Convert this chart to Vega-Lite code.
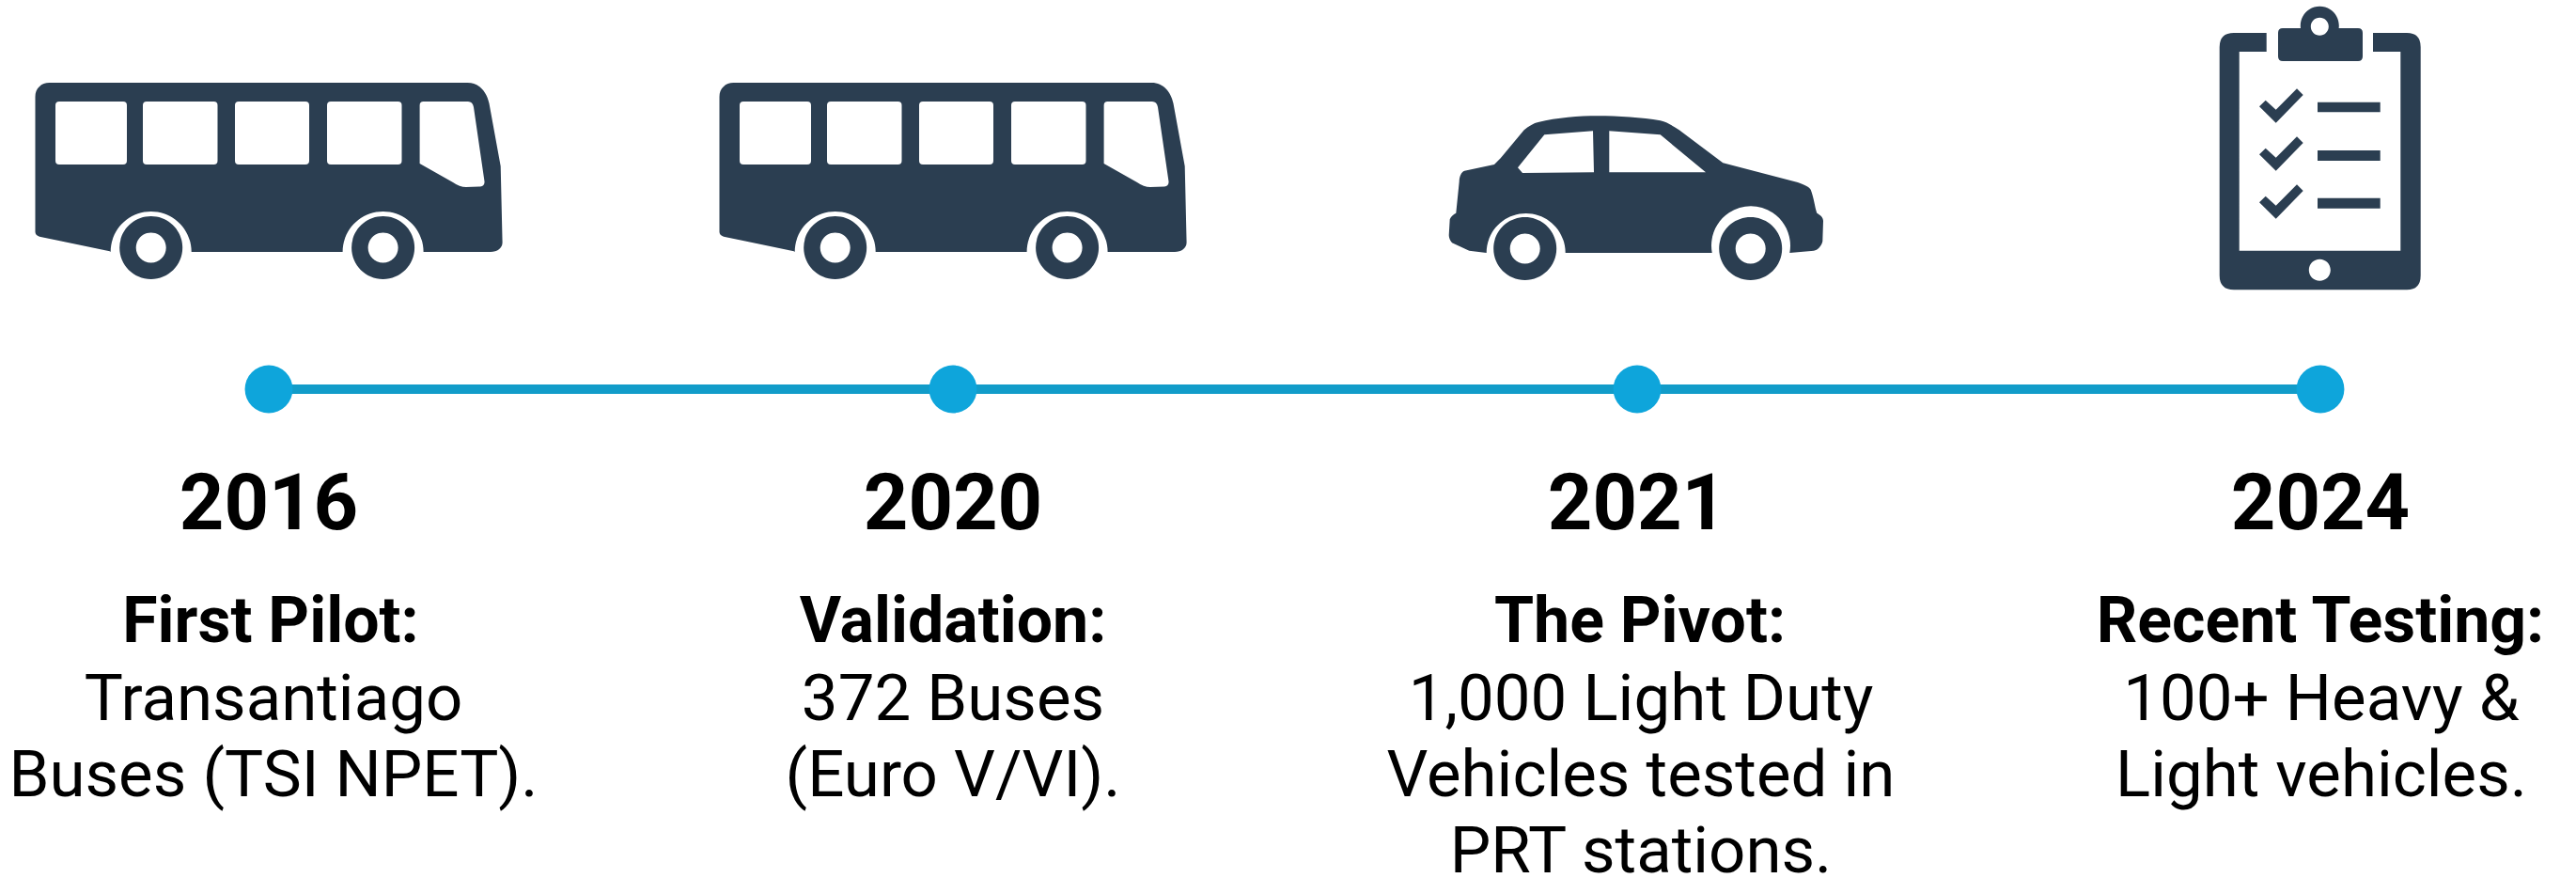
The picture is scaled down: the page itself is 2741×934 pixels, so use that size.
{"$schema":"https://vega.github.io/schema/vega-lite/v6.json","width":2741,"height":934,"padding":0,"autosize":{"type":"fit","contains":"padding"},"background":"#ffffff","view":{"stroke":null},"config":{"text":{"font":"Roboto","color":"#000000","align":"center","baseline":"alphabetic"}},"data":{"values":[
{"year":2016,"row":0,"kind":"icon","icon":"bus"},{"year":2020,"row":0,"kind":"icon","icon":"bus"},{"year":2021,"row":0,"kind":"icon","icon":"car"},{"year":2024,"row":0,"kind":"icon","icon":"clipboard"},
{"year":2016,"row":1,"kind":"node"},{"year":2020,"row":1,"kind":"node"},{"year":2021,"row":1,"kind":"node"},{"year":2024,"row":1,"kind":"node"},
{"year":2016,"row":2,"kind":"year","label":"2016"},{"year":2020,"row":2,"kind":"year","label":"2020"},{"year":2021,"row":2,"kind":"year","label":"2021"},{"year":2024,"row":2,"kind":"year","label":"2024"},
{"year":2016,"row":3,"kind":"head","label":"First Pilot:"},{"year":2016,"row":4,"kind":"body","label":"Transantiago"},{"year":2016,"row":5,"kind":"body","label":"Buses (TSI NPET)."},
{"year":2020,"row":3,"kind":"head","label":"Validation:"},{"year":2020,"row":4,"kind":"body","label":"372 Buses"},{"year":2020,"row":5,"kind":"body","label":"(Euro V/VI)."},
{"year":2021,"row":3,"kind":"head","label":"The Pivot:"},{"year":2021,"row":4,"kind":"body","label":"1,000 Light Duty"},{"year":2021,"row":5,"kind":"body","label":"Vehicles tested in"},{"year":2021,"row":6,"kind":"body","label":"PRT stations."},
{"year":2024,"row":3,"kind":"head","label":"Recent Testing:"},{"year":2024,"row":4,"kind":"body","label":"100+ Heavy &"},{"year":2024,"row":5,"kind":"body","label":"Light vehicles."}
]},
"encoding":{"x":{"field":"year","type":"quantitative","axis":null,"scale":{"domain":[2016,2020,2021,2024],"range":[286,1014,1742,2469],"nice":false,"zero":false}},"y":{"field":"row","type":"quantitative","axis":null,"scale":{"domain":[0,1,2,3,4,5,6],"range":[190,414,563,683,766,847,928],"nice":false,"zero":false}}},
"resolve":{"scale":{"x":"independent"}},
"layer":[
{"transform":[{"filter":"datum.kind==='node'"}],"mark":{"type":"line","color":"#129cc9","strokeWidth":10}},
{"transform":[{"filter":"datum.kind==='node'"}],"mark":{"type":"circle","color":"#0ea5db","opacity":1,"size":2590}},
{"transform":[{"filter":"datum.kind==='icon'"}],"mark":{"type":"point","filled":true,"opacity":1,"color":"#2b3e51","size":4,"strokeWidth":0},"encoding":{"shape":{"field":"icon","type":"nominal","legend":null,"scale":{"domain":["bus","car","clipboard"],"range":[
"M -233.5 -102 L 211.5 -102 C 224 -102 232 -92 234.5 -80 L 246.7 -13.3 L 248.6 68 C 248.6 74 243 78 236 78 L 164.6 78 A 43 43 0 1 0 78.6 78 L -82.3 78 A 43 43 0 1 0 -168.3 78 L -169.3 77.3 L -244 61.7 Q -248.5 60 -248.5 56.7 L -248.5 -87 C -248.5 -96 -242 -102 -233.5 -102 Z M -227 -78 L -227 -19 Q -227 -15 -223 -15 L -155 -15 Q -151 -15 -151 -19 L -151 -78 Q -151 -82 -155 -82 L -223 -82 Q -227 -82 -227 -78 Z M -134 -78 L -134 -19 Q -134 -15 -130 -15 L -58.5 -15 Q -54.5 -15 -54.5 -19 L -54.5 -78 Q -54.5 -82 -58.5 -82 L -130 -82 Q -134 -82 -134 -78 Z M -36 -78 L -36 -19 Q -36 -15 -32 -15 L 39 -15 Q 43 -15 43 -19 L 43 -78 Q 43 -82 39 -82 L -32 -82 Q -36 -82 -36 -78 Z M 62 -78 L 62 -19 Q 62 -15 66 -15 L 137.5 -15 Q 141.5 -15 141.5 -19 L 141.5 -78 Q 141.5 -82 137.5 -82 L 66 -82 Q 62 -82 62 -78 Z M 160.6 -78 L 160.6 -16 L 196 4 Q 203 9 210 9 L 225 8.5 Q 230 8 229.5 3 L 218 -76 Q 217 -82 212 -82 L 164.6 -82 Q 160.6 -82 160.6 -78 Z M -158.8 73.5 A 33.5 33.5 0 1 1 -91.8 73.5 A 33.5 33.5 0 1 1 -158.8 73.5 Z M -141.3 73.5 A 16 16 0 1 0 -109.3 73.5 A 16 16 0 1 0 -141.3 73.5 Z M 88.1 73.5 A 33.5 33.5 0 1 1 155.1 73.5 A 33.5 33.5 0 1 1 88.1 73.5 Z M 105.6 73.5 A 16 16 0 1 0 137.6 73.5 A 16 16 0 1 0 105.6 73.5 Z",
"M -105.3 -60 C -85 -65 -62 -66.7 -42 -66.7 C -20 -66.7 5 -65 24.7 -61.7 C 32 -60 38 -56 44.7 -51.7 L 91.3 -16.7 L 168 3.3 C 176 5.5 182 8 184.7 11.7 C 188 20 189 30 191.3 36.7 C 195 39 198 41 198 45 L 197.3 66.7 C 196 72 192 76 188 76.7 L 162.3 79 A 42 42 0 1 0 79.7 79 L -76.3 79 A 42 42 0 1 0 -160.3 79 L -178.7 76.7 L -197 68.3 C -199 66 -200.3 63 -200.3 60 L -199.3 43.3 C -198 40 -195 38 -192.7 36.7 L -189.3 3.3 C -189 -3 -187 -7 -183.7 -8.3 L -152 -15 L -145.3 -21.7 L -120.3 -51.7 C -115 -56 -110 -59 -105.3 -60 Z M -98.7 -46.7 L -127 -11.7 L -122 -6 L -46 -6.7 L -47 -50.7 Z M -29.7 -50.7 L -29.7 -6.7 L 73 -6.7 L 24.7 -46.7 Z M -152.8 74.5 A 33.5 33.5 0 1 1 -85.8 74.5 A 33.5 33.5 0 1 1 -152.8 74.5 Z M -135.3 74.5 A 16 16 0 1 0 -103.3 74.5 A 16 16 0 1 0 -135.3 74.5 Z M 87.2 74.5 A 33.5 33.5 0 1 1 154.2 74.5 A 33.5 33.5 0 1 1 87.2 74.5 Z M 104.7 74.5 A 16 16 0 1 0 136.7 74.5 A 16 16 0 1 0 104.7 74.5 Z",
"M -57.3 -155 L -57.3 -135 L -86.3 -135 L -86.3 76.7 L 85.3 76.7 L 85.3 -135 L 56 -135 L 56 -155 L 92 -155 Q 106.7 -155 106.7 -140 L 106.7 103 Q 106.7 118.3 92 118.3 L -92 118.3 Q -107.3 118.3 -107.3 103 L -107.3 -140 Q -107.3 -155 -92 -155 Z M -12.2 97.3 A 11.5 11.5 0 1 0 10.8 97.3 A 11.5 11.5 0 1 0 -12.2 97.3 Z M -40 -160 L -21 -160 A 20.5 20.5 0 1 1 19.6 -160 L 40 -160 Q 45 -160 45 -155 L 45 -130 Q 45 -125 40 -125 L -40 -125 Q -45 -125 -45 -130 L -45 -155 Q -45 -160 -40 -160 Z M -10.2 -161.7 A 9.5 9.5 0 1 0 8.8 -161.7 A 9.5 9.5 0 1 0 -10.2 -161.7 Z M -65 -76.7 L -58.3 -83.3 L -47.3 -73.3 L -25 -95.7 L -18.3 -89 L -47.3 -59.3 Z M -65 -25.7 L -58.3 -32.3 L -47.3 -22.3 L -25 -44.7 L -18.3 -38 L -47.3 -8.3 Z M -65 25.3 L -58.3 18.7 L -47.3 28.7 L -25 6.3 L -18.3 13 L -47.3 42.7 Z M -3 -81.3 L 63.7 -81.3 L 63.7 -70.7 L -3 -70.7 Z M -3 -30 L 63.7 -30 L 63.7 -19 L -3 -19 Z M -3 20.7 L 63.7 20.7 L 63.7 31.7 L -3 31.7 Z"
]}}}},
{"transform":[{"filter":"datum.kind==='year'"}],"mark":{"type":"text","fontWeight":"bold","fontSize":83},"encoding":{"text":{"field":"label"}}},
{"transform":[{"filter":"datum.kind==='head'"}],"mark":{"type":"text","fontWeight":"bold","fontSize":68},"encoding":{"x":{"field":"year","type":"quantitative","axis":null,"scale":{"domain":[2016,2020,2021,2024],"range":[288,1014,1745,2469],"nice":false,"zero":false}},"text":{"field":"label"}}},
{"transform":[{"filter":"datum.kind==='body'"}],"mark":{"type":"text","fontWeight":"normal","fontSize":69},"encoding":{"x":{"field":"year","type":"quantitative","axis":null,"scale":{"domain":[2016,2020,2021,2024],"range":[291,1014,1746,2470],"nice":false,"zero":false}},"text":{"field":"label"}}}
]}
